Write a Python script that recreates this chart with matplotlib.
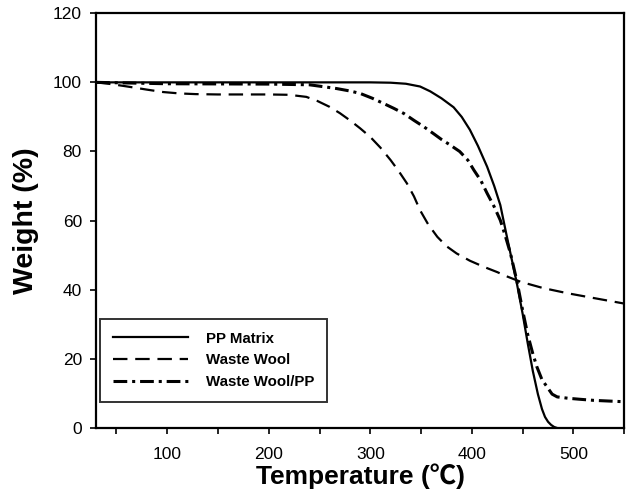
import matplotlib
matplotlib.use("Agg")
import matplotlib.pyplot as plt
import numpy as np

plt.rcParams['font.family'] = ['Liberation Sans', 'Noto Sans CJK JP', 'DejaVu Sans']

# PP Matrix (solid)
pp_t = [30, 100, 200, 300, 320, 335, 349, 359, 370, 382, 390, 398, 406, 415, 422,
        428, 434, 438, 444, 450, 455, 460, 465, 469, 472, 475, 478, 481, 484]
pp_w = [100, 100, 100, 100, 99.9, 99.6, 98.8, 97.4, 95.4, 92.8, 90.0, 86.3, 81.6, 75.6, 70,
        64.5, 56, 50.5, 42.3, 33, 24.5, 16.5, 9.8, 5.5, 3.2, 1.8, 0.9, 0.3, 0]

# Waste Wool (dashed)
ww_t = [30, 45, 63, 80, 96, 112, 128, 150, 200, 220, 237, 248, 260, 270, 280, 290, 300,
        310, 320, 328, 336, 343, 349, 357, 366, 375, 385, 398, 412, 425, 435, 448, 470,
        494, 520, 550]
ww_w = [100, 99.5, 98.7, 97.9, 97.2, 96.8, 96.6, 96.5, 96.5, 96.4, 95.8, 94.6, 92.9, 91.1,
        89.0, 86.7, 84.2, 81.1, 77.5, 74.3, 70.8, 67, 63, 58.9, 55.3, 52.6, 50.5, 48.4,
        46.6, 45.1, 43.8, 42.3, 40.5, 39, 37.6, 36]

# Waste Wool/PP (dash-dot)
wp_t = [30, 100, 200, 240, 255, 267, 280, 290, 302, 313, 323, 333, 343, 353, 363, 370,
        378, 388, 396, 402, 409, 415, 422, 428, 433, 438, 444.5, 450, 455, 460, 464, 469,
        474, 479, 484, 495, 507, 520, 535, 550]
wp_w = [100, 99.6, 99.5, 99.3, 98.7, 98.2, 97.5, 96.8, 95.4, 93.9, 92.5, 91, 89, 87.1, 85,
        83.5, 82, 80, 77.5, 74.6, 71.5, 67.9, 64, 60.1, 55.5, 50.5, 42.3, 34, 27, 21.5,
        17.7, 14, 11.9, 9.8, 9, 8.6, 8.3, 8, 7.8, 7.6]

labels = ['PP Matrix', 'Waste Wool', 'Waste Wool/PP']

fig = plt.figure(figsize=(6.28, 4.9), dpi=100)
ax = fig.add_axes([0.153, 0.1265, 0.841, 0.8465])

ax.plot(pp_t, pp_w, '-', color='black', lw=1.6, label=labels[0])
ax.plot(ww_t, ww_w, color='black', lw=1.6, dashes=(6.5, 3.5), label=labels[1])
ax.plot(wp_t, wp_w, color='black', lw=2.2, dashes=(4.5, 1.6, 1.0, 1.6), label=labels[2])

ax.set_xlim(30, 550)
ax.set_ylim(0, 120)
ax.set_xticks(np.arange(50, 551, 50))
ax.set_xticklabels(['' if v % 100 else str(v) for v in range(50, 551, 50)])
ax.set_yticks(np.arange(0, 121, 20))

for s in ax.spines.values():
    s.set_linewidth(1.6)
ax.tick_params(axis='both', direction='out', length=4.2, width=1.2, labelsize=12.5)
ax.tick_params(axis='x', pad=9.5)
ax.tick_params(axis='y', pad=6)

ax.set_xlabel('Temperature (℃)', fontsize=19, fontweight='bold', labelpad=1)
ax.set_ylabel('Weight (%)', fontsize=20.5, fontweight='bold', labelpad=10)

leg = ax.legend(loc='lower left', bbox_to_anchor=(0.007, 0.0627),
                prop={'weight': 'bold', 'size': 10.8}, frameon=True, fancybox=False,
                handlelength=5.0, handletextpad=1.25, labelspacing=0.52,
                borderpad=0.85, borderaxespad=0)
leg.get_frame().set_edgecolor('black')
leg.get_frame().set_linewidth(1.4)

fig.savefig('out.png', dpi=100)
